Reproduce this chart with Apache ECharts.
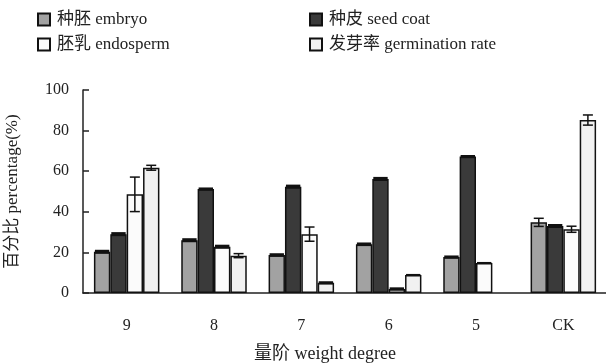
<!DOCTYPE html>
<html>
<head>
<meta charset="utf-8">
<script src="https://cdn.jsdelivr.net/npm/echarts@6/dist/echarts.min.js"></script>
<style>html,body{margin:0;padding:0;background:#fff}#c{width:606px;height:364px}</style>
</head>
<body>
<div id="c"></div>
<script>
const categories = ['9', '8', '7', '6', '5', 'CK'];
const seriesNames = ['种胚 embryo', '种皮 seed coat', '胚乳 endosperm', '发芽率 germination rate'];
const embryo = [20.3, 26.0, 18.7, 24.0, 17.7, 34.8];
const seedCoat = [29.0, 51.2, 52.4, 56.2, 67.2, 33.0];
const endosperm = [48.6, 22.8, 29.0, 2.0, 14.8, 31.4];
const germination = [61.7, 18.4, 5.0, 8.9, null, 85.2];
const embryoErr = [0.5, 0.5, 0.4, 0.4, 0.3, 2.0];
const seedCoatErr = [0.5, 0.3, 0.5, 0.5, 0.3, 0.5];
const endospermErr = [8.5, 0.5, 3.5, 0.3, 0, 1.5];
const germinationErr = [1.2, 1.0, 0.3, 0, 0, 2.5];
const yTicks = [0, 20, 40, 60, 80, 100];

const FONT = '"Liberation Serif", "Noto Sans CJK SC", serif';
const colors = ['#a2a2a2', '#3a3a3a', '#fbfbfb', '#f1f1f1'];
const values = [embryo, seedCoat, endosperm, germination];
const errs = [embryoErr, seedCoatErr, endospermErr, germinationErr];
const GAP = 0.25;

const chart = echarts.init(document.getElementById('c'), null, {renderer: 'canvas'});

const barSeries = values.map((v, i) => ({
  name: seriesNames[i],
  type: 'bar',
  data: v,
  barGap: '0%',
  barCategoryGap: (GAP * 100) + '%',
  itemStyle: {color: colors[i], borderColor: '#111', borderWidth: 1.5},
  z: 2
}));

const errSeries = values.map((v, i) => ({
  name: seriesNames[i] + ' err',
  type: 'custom',
  data: v.map((val, j) => [j, val, errs[i][j]]),
  z: 5,
  silent: true,
  renderItem: function (params, api) {
    const val = api.value(1);
    if (val === null || isNaN(val)) return null;
    const e = api.value(2);
    const catW = api.size([1, 0])[0];
    const bw = catW * (1 - GAP) / 4;
    const base = api.coord([api.value(0), val]);
    const cx = base[0] + (i - 1.5) * bw;
    const hi = api.coord([api.value(0), val + e])[1];
    const lo = api.coord([api.value(0), val - e])[1];
    const capW = 5;
    const style = {stroke: '#111', lineWidth: 1.5};
    if (e < 1) {
      return {type: 'rect', shape: {x: cx - bw / 2 + 1, y: hi - 1, width: bw - 2, height: Math.max(lo - hi, 0) + 2}, style: {fill: '#111'}};
    }
    return {
      type: 'group',
      children: [
        {type: 'line', shape: {x1: cx, y1: hi, x2: cx, y2: lo}, style},
        {type: 'line', shape: {x1: cx - capW, y1: hi, x2: cx + capW, y2: hi}, style},
        {type: 'line', shape: {x1: cx - capW, y1: lo, x2: cx + capW, y2: lo}, style}
      ]
    };
  }
}));

const legendCommon = {
  orient: 'vertical',
  itemWidth: 12,
  itemHeight: 12,
  itemGap: 8,
  icon: 'rect',
  textStyle: {fontFamily: FONT, fontSize: 17, color: '#222', padding: [0, 0, 0, 2]},
  selectedMode: false
};

chart.setOption({
  backgroundColor: '#fff',
  animation: false,
  legend: [
    Object.assign({}, legendCommon, {left: 32, top: 6, data: [seriesNames[0], seriesNames[2]]}),
    Object.assign({}, legendCommon, {left: 304, top: 6, data: [seriesNames[1], seriesNames[3]]})
  ],
  grid: {left: 83, right: -1, top: 90, bottom: 71, outerBoundsMode: 'none', containLabel: false},
  xAxis: {
    type: 'category',
    data: categories,
    name: '量阶 weight degree',
    nameLocation: 'middle',
    nameGap: 52,
    nameTextStyle: {fontFamily: FONT, fontSize: 18, color: '#222', padding: [0, 40, 0, 0]},
    axisLine: {lineStyle: {color: '#222', width: 1.5}},
    axisTick: {inside: true, length: 5, lineStyle: {color: '#222', width: 1.5}},
    axisLabel: {fontFamily: FONT, fontSize: 16, color: '#222', margin: 25}
  },
  yAxis: {
    type: 'value',
    min: yTicks[0],
    max: yTicks[yTicks.length - 1],
    interval: 20,
    name: '百分比 percentage(%)',
    nameLocation: 'middle',
    nameGap: 62,
    nameRotate: 90,
    nameTextStyle: {fontFamily: FONT, fontSize: 17, color: '#222'},
    axisLine: {show: true, lineStyle: {color: '#222', width: 1.5}},
    axisTick: {show: true, inside: true, length: 6, lineStyle: {color: '#222', width: 1.5}},
    axisLabel: {fontFamily: FONT, fontSize: 16, color: '#222', margin: 14},
    splitLine: {show: false}
  },
  series: barSeries.concat(errSeries)
});
</script>
</body>
</html>
